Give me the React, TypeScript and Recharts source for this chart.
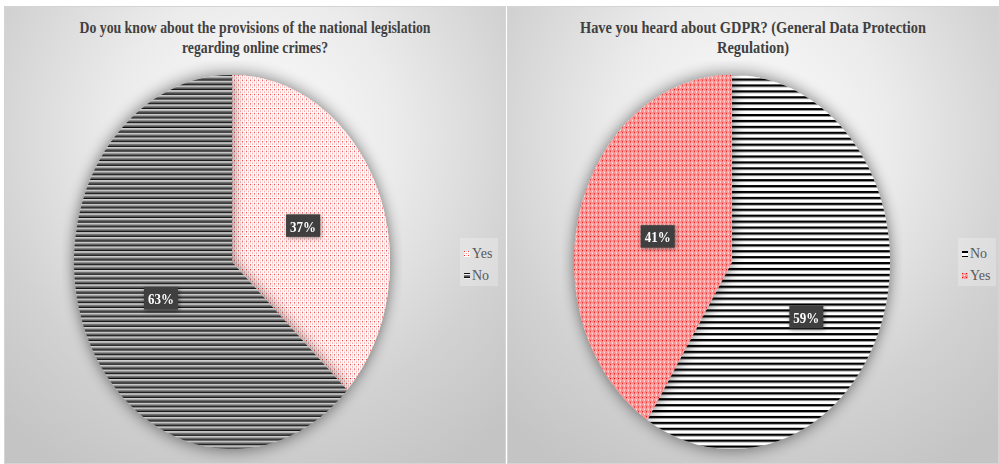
import React from 'react';
import { PieChart, Pie, Cell } from 'recharts';

// Left chart: national legislation on online crimes
const legislationTitle = ['Do you know about the provisions of the national legislation', 'regarding online crimes?'];
const legislationNames = ['Yes', 'No'];
const legislationValues = [37, 63];

// Right chart: GDPR awareness
const gdprTitle = ['Have you heard about GDPR? (General Data Protection', 'Regulation)'];
const gdprNames = ['No', 'Yes'];
const gdprValues = [59, 41];

const RADIAN = Math.PI / 180;
const PIE_BOX = 340;
const STRETCH_Y = 1.184;

const Patterns = () => (
  <svg width={0} height={0} style={{ position: 'absolute' }}>
    <defs>
      {/* light pink dotted */}
      <pattern id="patDots" width={4} height={4} patternUnits="userSpaceOnUse">
        <rect width={4} height={4} fill="#ffffff" />
        <rect x={0} y={0} width={1} height={1} fill="#f03030" />
        <rect x={2} y={2} width={1} height={1} fill="#f58a8a" />
        <rect x={2} y={0} width={1} height={1} fill="#fbd0d0" />
        <rect x={0} y={2} width={1} height={1} fill="#fbd0d0" />
      </pattern>
      {/* grey / black / white stripes */}
      <pattern id="patGreyStripes" width={4} height={4} patternUnits="userSpaceOnUse">
        <rect width={4} height={4} fill="#7a7a7a" />
        <rect y={0} width={4} height={1} fill="#111111" />
        <rect y={1} width={4} height={1} fill="#f4f4f4" />
        <rect y={3} width={4} height={1} fill="#555555" />
      </pattern>
      {/* black / white stripes */}
      <pattern id="patBlackStripes" width={5} height={5} patternUnits="userSpaceOnUse">
        <rect width={5} height={5} fill="#ffffff" />
        <rect y={0} width={5} height={2} fill="#000000" />
      </pattern>
      {/* red checker */}
      <pattern id="patChecker" width={4} height={4} patternUnits="userSpaceOnUse">
        <rect width={4} height={4} fill="#ff9494" />
        <rect x={0} y={0} width={1} height={1} fill="#e01010" />
        <rect x={2} y={2} width={1} height={1} fill="#ffffff" />
        <rect x={1} y={1} width={1} height={1} fill="#ffc4c4" />
        <rect x={3} y={3} width={1} height={1} fill="#ff6a6a" />
      </pattern>
      <filter id="pieGlow" x="-20%" y="-20%" width="140%" height="140%">
        <feGaussianBlur in="SourceAlpha" stdDeviation="7" />
        <feComponentTransfer>
          <feFuncA type="linear" slope="0.55" />
        </feComponentTransfer>
        <feMerge>
          <feMergeNode />
          <feMergeNode in="SourceGraphic" />
        </feMerge>
      </filter>
    </defs>
  </svg>
);

const makeLabel = (nudge: Record<string, number>) => (props: any) => {
  const { cx, cy, midAngle, outerRadius, value, name } = props;
  const r = outerRadius * 0.49;
  const x = cx + r * Math.cos(-midAngle * RADIAN);
  const y = cy + r * Math.sin(-midAngle * RADIAN) + (nudge[name] || 0);
  return (
    <g>
      <rect x={x - 17} y={y - 9.5} width={34} height={19} fill="#3f3f3f" style={{ filter: 'drop-shadow(1px 1px 2px rgba(0,0,0,0.45))' }} />
      <text x={x} y={y + 0.5} textAnchor="middle" dominantBaseline="central" fill="#ffffff"
        fontFamily="'Liberation Serif', serif" fontWeight="bold" fontSize={13}>
        {`${value}%`}
      </text>
    </g>
  );
};

interface PanelProps {
  left: number;
  width: number;
  title: string[];
  titleLengths: number[];
  names: string[];
  values: number[];
  fills: string[];
  pieCenterX: number;
  legendLeft: number;
  nudge: Record<string, number>;
}

const Panel: React.FC<PanelProps> = ({ left, width, title, titleLengths, names, values, fills, pieCenterX, legendLeft, nudge }) => {
  const data = names.map((name, i) => ({ name, value: values[i] }));
  const top = 6;
  const height = 458;
  const pieCy = 262;
  return (
    <div style={{
      position: 'absolute', left, top, width, height, boxSizing: 'border-box',
      border: '1px solid #d4d4d4', overflow: 'hidden',
      background: 'radial-gradient(ellipse 75% 85% at 50% 28%, #fcfcfc 0%, #ebebeb 38%, #d2d2d2 72%, #c4c4c4 100%)',
    }}>
      <svg width={width} height={60} style={{ position: 'absolute', left: -1, top: -1 }}>
        {title.map((line, i) => (
          <text key={i} x={width / 2} y={27 + i * 20 - top} textAnchor="middle" dominantBaseline="central"
            fontFamily="'Liberation Serif', serif" fontWeight="bold" fontSize={16} fill="#404040"
            textLength={titleLengths[i]} lengthAdjust="spacingAndGlyphs">
            {line}
          </text>
        ))}
      </svg>
      <div style={{
        position: 'absolute', left: pieCenterX - left - 1 - PIE_BOX / 2, top: pieCy - top - 1 - PIE_BOX / 2,
        width: PIE_BOX, height: PIE_BOX, transform: `scaleY(${STRETCH_Y})`,
      }}>
        <PieChart width={PIE_BOX} height={PIE_BOX} margin={{ top: 0, right: 0, bottom: 0, left: 0 }}>
          <Pie data={data} dataKey="value" nameKey="name" cx={PIE_BOX / 2} cy={PIE_BOX / 2}
            outerRadius={158} startAngle={90} endAngle={-270} stroke="none"
            style={{ filter: 'url(#pieGlow)' }}
            label={makeLabel(nudge)} labelLine={false} isAnimationActive={false}>
            {data.map((entry, i) => (
              <Cell key={`cell-${i}`} fill={fills[i]} />
            ))}
          </Pie>
        </PieChart>
      </div>
      <div style={{
        position: 'absolute', left: legendLeft - left - 1, top: 238 - top - 1, width: 38, height: 48,
        background: 'rgba(255,255,255,0.25)', boxSizing: 'border-box', paddingTop: 5, paddingLeft: 4,
      }}>
        {data.map((entry, i) => (
          <div key={i} style={{ display: 'flex', alignItems: 'center', height: 22, fontFamily: "'Liberation Serif', serif", fontSize: 14, color: '#595959' }}>
            <svg width={6} height={6} style={{ marginRight: 2 }}>
              <rect width={6} height={6} fill={fills[i]} />
            </svg>
            <span>{entry.name}</span>
          </div>
        ))}
      </div>
    </div>
  );
};

const App = () => (
  <div style={{ position: 'absolute', left: 0, top: 0, width: 999, height: 464, background: '#ffffff', overflow: 'hidden' }}>
    <Patterns />
    <Panel left={4} width={502} title={legislationTitle} titleLengths={[351, 146]}
      names={legislationNames} values={legislationValues}
      fills={['url(#patDots)', 'url(#patGreyStripes)']}
      pieCenterX={232} legendLeft={460} nudge={{}} />
    <Panel left={507} width={492} title={gdprTitle} titleLengths={[346, 72]}
      names={gdprNames} values={gdprValues}
      fills={['url(#patBlackStripes)', 'url(#patChecker)']}
      pieCenterX={732} legendLeft={958} nudge={{ No: 25 }} />
  </div>
);

export default App;
